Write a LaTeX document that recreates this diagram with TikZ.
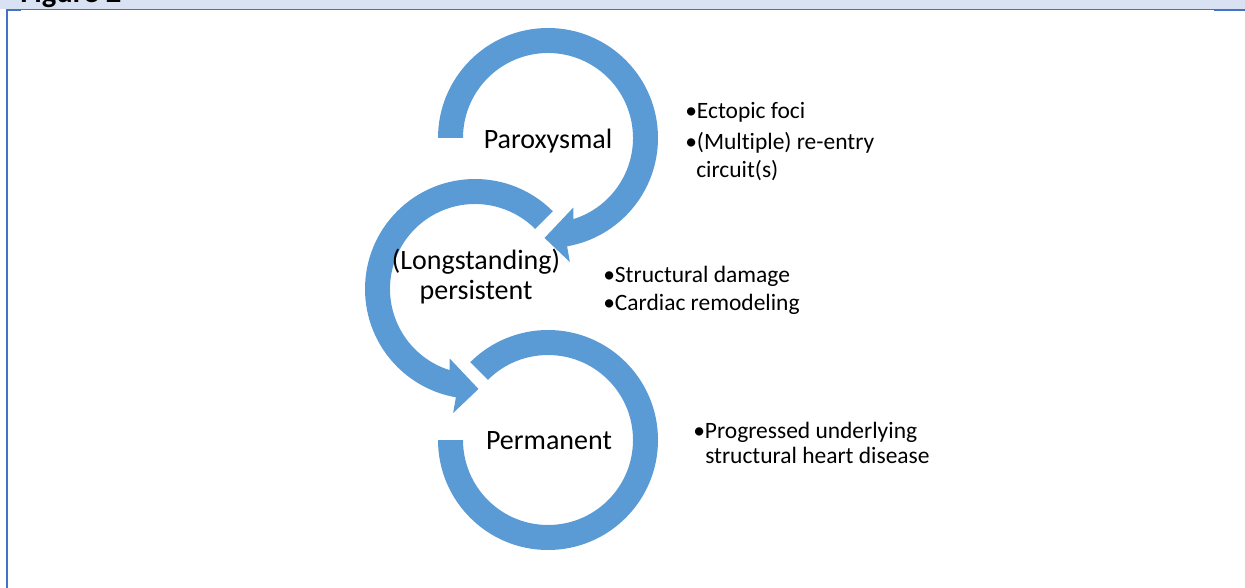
\documentclass[tikz,border=0pt]{standalone}
\usepackage{fontspec}
\setmainfont{Carlito}[Ligatures=NoCommon]
\definecolor{arrowblue}{HTML}{5B9BD5}
\definecolor{frameblue}{HTML}{4472C4}
\definecolor{bannerbg}{HTML}{D9E2F3}
\tikzset{
  arrowband/.style={fill=arrowblue, draw=none},
  bigtxt/.style={inner sep=0pt, font=\fontsize{21pt}{25pt}\selectfont, anchor=base},
  bullettxt/.style={inner sep=0pt, font=\fontsize{17.6pt}{21pt}\selectfont, anchor=base west},
  framefill/.style={fill=frameblue, draw=none},
}
\begin{document}
\begin{tikzpicture}[x=0.75pt,y=-0.75pt]
\useasboundingbox (0,0) rectangle (1245,588);
\clip (0,0) rectangle (1245,588);
% frame
\fill[bannerbg] (0,0) rectangle (1245,9);
\node[inner sep=0pt, anchor=base west, font=\fontsize{23pt}{26pt}\selectfont\bfseries] (figtitle) at (20,3) {Figure 2};
\fill[framefill] (6,9) rectangle (1245,10);
\fill[framefill] (6,9) rectangle (8,588);
\fill[framefill] (7,10) rectangle (21,11);
\fill[framefill] (1214,10) rectangle (1245,11);
% centres
\coordinate (c1) at (548,138);
\coordinate (c2) at (475,289);
\coordinate (c3) at (548,440);
% circle 1 (Paroxysmal)
\fill[arrowband, shift={(c1)}] (180:82.5pt) arc[start angle=180, end angle=-80, radius=82.5pt]
  -- (-80:94.5pt) -- (-92:75pt) -- (-70:55.5pt) -- (-72.7:63.75pt)
  arc[start angle=-72.7, end angle=180, radius=63.75pt] -- cycle;
% circle 2 (Longstanding persistent)
\fill[arrowband, shift={(c2)}] (45:82.5pt) arc[start angle=45, end angle=260, radius=82.5pt]
  -- (260:94.5pt) -- (272:75pt) -- (250:55.5pt) -- (252.7:63.75pt)
  arc[start angle=252.7, end angle=45, radius=63.75pt] -- cycle;
% circle 3 (Permanent)
\fill[arrowband, shift={(c3)}] (180:82.5pt) arc[start angle=180, end angle=495, radius=82.5pt]
  -- (495:63.75pt) arc[start angle=495, end angle=180, radius=63.75pt] -- cycle;
% stage labels
\node[bigtxt] (parox) at (548,149) {Paroxysmal};
\node[bigtxt] (longst) at (476,269) {(Longstanding)};
\node[bigtxt] (persist) at (476,299) {persistent};
\node[bigtxt] (perman) at (549,449) {Permanent};
% bullet texts
\node[bullettxt] (b1) at (685,119) {•Ectopic foci};
\node[bullettxt] (b2) at (685,150) {•(Multiple) re-entry};
\node[bullettxt] (b2b) at (696,177) {circuit(s)};
\node[bullettxt] (b3) at (603,282) {•Structural damage};
\node[bullettxt] (b4) at (603,310) {•Cardiac remodeling};
\node[bullettxt] (b5) at (693,438) {•Progressed underlying};
\node[bullettxt] (b5b) at (705,463) {structural heart disease};
\end{tikzpicture}
\end{document}
